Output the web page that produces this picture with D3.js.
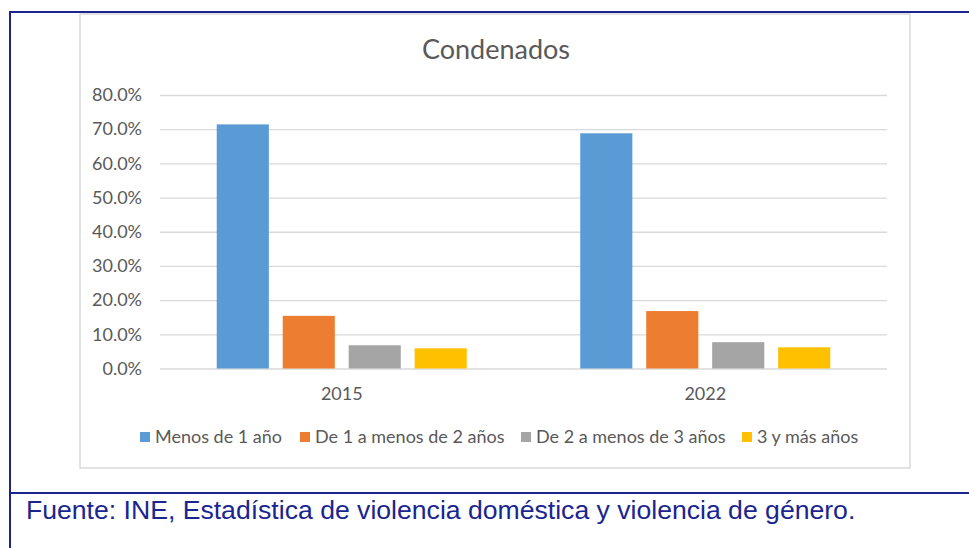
<!DOCTYPE html>
<html>
<head>
<meta charset="utf-8">
<script src="https://cdn.jsdelivr.net/npm/d3@7"></script>
<style>
  body { margin: 0; background: #fff; }
  svg { display: block; }
</style>
</head>
<body>
<svg id="chart" width="969" height="548"></svg>
<script>
// data
let years = ['2015', '2022']
let series = ['Menos de 1 año', 'De 1 a menos de 2 años', 'De 2 a menos de 3 años', '3 y más años']
let values2015 = [71.4, 15.4, 6.8, 5.9]
let values2022 = [68.8, 16.8, 7.7, 6.2]
let yTicks = [0, 10, 20, 30, 40, 50, 60, 70, 80]
let colors = ['#5b9bd5', '#ed7d31', '#a5a5a5', '#ffc000']

let rows = [values2015, values2022]

let svg = d3.select('#chart')
let font = 'Lato, "Open Sans", sans-serif'
let navy = '#1a2590'

// outer frame (page layout lines)
svg.append('line').attr('x1', 9).attr('x2', 969).attr('y1', 12).attr('y2', 12)
  .attr('stroke', navy).attr('stroke-width', 2)
svg.append('line').attr('x1', 10).attr('x2', 10).attr('y1', 11).attr('y2', 548)
  .attr('stroke', navy).attr('stroke-width', 2)
svg.append('line').attr('x1', 9).attr('x2', 969).attr('y1', 493).attr('y2', 493)
  .attr('stroke', navy).attr('stroke-width', 2)

// chart box
svg.append('rect').attr('x', 80).attr('y', 14).attr('width', 830).attr('height', 454)
  .attr('fill', '#fff').attr('stroke', '#d9d9d9').attr('stroke-width', 1.5)

let plotLeft = 160, plotRight = 887, plotTop = 95, plotBottom = 368.5

let y = d3.scaleLinear().domain([0, 80]).range([plotBottom, plotTop])
let x0 = d3.scaleBand().domain(years).range([plotLeft, plotRight]).padding(0)
let x1 = d3.scaleBand().domain(series).range([0, x0.bandwidth()])
  .paddingInner(0.21).paddingOuter(0.86)
let color = d3.scaleOrdinal(series, colors)

// gridlines + y labels
let yAxis = d3.axisLeft(y).tickValues(yTicks)
  .tickSize(-(plotRight - plotLeft)).tickPadding(18)
  .tickFormat(d => d.toFixed(1) + '%')
let gy = svg.append('g').attr('transform', 'translate(' + plotLeft + ',0)').call(yAxis)
gy.select('.domain').remove()
gy.selectAll('line').attr('stroke', '#d9d9d9').attr('stroke-width', 1.3)
gy.selectAll('text').attr('fill', '#595959').style('font-family', font).style('font-size', '18px')

// bars
let groups = svg.selectAll('.grp')
  .data(rows)
  .enter()
  .append('g')
    .attr('class', 'grp')
    .attr('transform', (d, i) => 'translate(' + x0(years[i]) + ',0)')

groups.selectAll('rect')
  .data(d => d.map((v, j) => ({ key: series[j], value: v })))
  .enter()
  .append('rect')
    .attr('x', d => x1(d.key))
    .attr('y', d => y(d.value))
    .attr('width', x1.bandwidth())
    .attr('height', d => y(0) - y(d.value))
    .attr('fill', d => color(d.key))

// x labels
let xAxis = d3.axisBottom(x0).tickSize(0).tickPadding(19)
let gx = svg.append('g').attr('transform', 'translate(0,' + plotBottom + ')').call(xAxis)
gx.select('.domain').remove()
gx.selectAll('text').attr('fill', '#595959').style('font-family', font).style('font-size', '18px')

// title
svg.append('text').attr('x', 496).attr('y', 59).attr('text-anchor', 'middle')
  .attr('fill', '#595959').style('font-family', font).style('font-size', '27px')
  .text('Condenados')

// legend
let legendX = [140, 300, 521, 742]
let legend = svg.selectAll('.leg')
  .data(series)
  .enter()
  .append('g')
    .attr('class', 'leg')
    .attr('transform', (d, i) => 'translate(' + legendX[i] + ',437)')
legend.append('rect').attr('x', 0).attr('y', -5).attr('width', 10).attr('height', 10)
  .attr('fill', d => color(d))
legend.append('text').attr('x', 15).attr('y', 0).attr('dy', '0.35em')
  .attr('fill', '#595959').style('font-family', font).style('font-size', '18px')
  .text(d => d)

// source
svg.append('text').attr('x', 26).attr('y', 519)
  .attr('fill', navy).style('font-family', '"Liberation Sans", Arial, sans-serif').style('font-size', '26.6px')
  .text('Fuente: INE, Estadística de violencia doméstica y violencia de género.')
</script>
</body>
</html>
